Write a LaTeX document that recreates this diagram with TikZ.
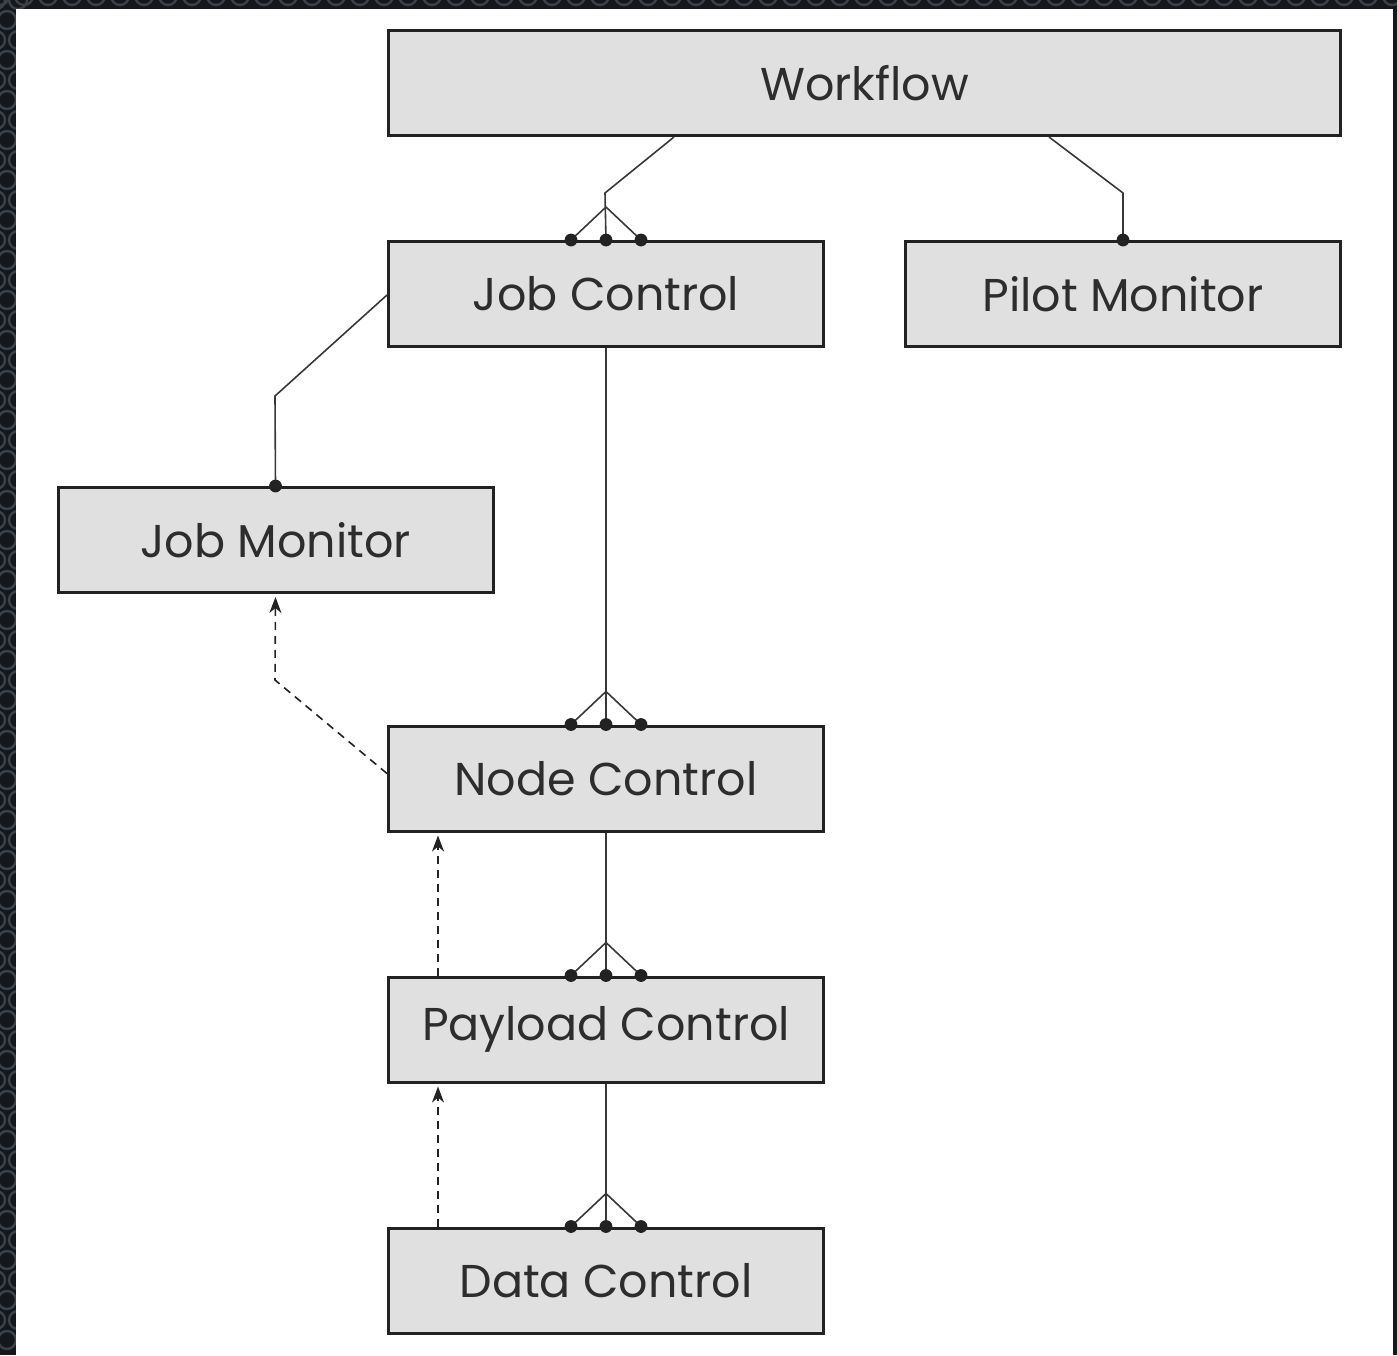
\documentclass[tikz,border=0pt]{standalone}
\usepackage{fontspec}
\setmainfont{Poppins}
\usetikzlibrary{calc,arrows.meta}
\definecolor{frame}{HTML}{15171B}
\definecolor{holerim}{HTML}{3A4149}
\definecolor{boxfill}{HTML}{E0E0E0}
\definecolor{ink}{HTML}{222222}
\tikzset{
  box/.style={draw=ink, fill=boxfill, line width=1.5pt, minimum width=217.5pt,
    minimum height=52.5pt, inner sep=0pt, font=\fontsize{23}{27}\selectfont, text=ink!95},
  conn/.style={draw=ink!90, line width=0.8pt},
  dep/.style={draw=ink, line width=0.8pt, dash pattern=on 4pt off 3pt,
    -{Stealth[length=8pt,width=6pt,inset=2.5pt]}},
  dot/.style={fill=ink, draw=none},
}
\newcommand\manyfoot[1]{%
  \draw[conn] ($(#1.north)+(0,-33)$) -- ($(#1.north)+(-35,0)$);
  \draw[conn] ($(#1.north)+(0,-33)$) -- ($(#1.north)+(35,0)$);
  \fill[dot] ($(#1.north)+(-35,0)$) circle[radius=3.2pt];
  \fill[dot] (#1.north) circle[radius=3.2pt];
  \fill[dot] ($(#1.north)+(35,0)$) circle[radius=3.2pt];
}
\begin{document}
\begin{tikzpicture}[x=0.5pt, y=-0.5pt]
  % perforated frame
  \useasboundingbox (0,0) rectangle (1397,1355);
  \fill[frame] (0,0) rectangle (1397,1355);
  \begin{scope}
    \clip (0,0) rectangle (1397,1355);
    \foreach \j in {0,...,67} {
      \pgfmathsetmacro\yy{\j*20}
      \pgfmathsetmacro\xo{mod(\j,2)*11}
      \draw[holerim, line width=1.2pt] (\xo-4,\yy) circle[radius=4.5pt];
      \draw[holerim, line width=1.2pt] (\xo+18,\yy) circle[radius=4.5pt];
    }
    \foreach \i in {0,...,60} {
      \draw[holerim, line width=1.2pt] (\i*24,-4) circle[radius=4.5pt];
    }
  \end{scope}
  \fill[white] (16,9) rectangle (1393,1355);

  % components
  \node[box, minimum width=476pt] (wf) at (864.5,83) {Workflow};
  \node[box] (jc) at (606,294) {Job Control};
  \node[box] (pm) at (1123,294) {Pilot Monitor};
  \node[box] (jm) at (275.5,540) {Job Monitor};
  \node[box] (nc) at (606,778.5) {Node Control};
  \node[box] (pc) at (606,1029.5) {Payload Control};
  \node[box] (dc) at (606,1280.5) {Data Control};

  % containment links
  \draw[conn] ($(wf.south west)+(287,0)$) -- (605,193) -- (jc.north);
  \manyfoot{jc}
  \draw[conn] ($(wf.south west)+(662,0)$) -- (1123,193) -- (pm.north);
  \fill[dot] (pm.north) circle[radius=3.2pt];
  \draw[conn] ($(jc.west)+(0,1)$) -- (275,396) -- (jm.north);
  \fill[dot] (jm.north) circle[radius=3.2pt];
  \draw[conn] (jc.south) -- (nc.north);
  \manyfoot{nc}
  \draw[conn] (nc.south) -- (pc.north);
  \manyfoot{pc}
  \draw[conn] (pc.south) -- (dc.north);
  \manyfoot{dc}

  % dependencies
  \draw[dep] ($(nc.west)+(0,-5)$) -- (275,680) -- ($(jm.south)+(0,3)$);
  \draw[dep] ($(pc.north west)+(51,0)$) -- ($(nc.south west)+(51,3)$);
  \draw[dep] ($(dc.north west)+(51,0)$) -- ($(pc.south west)+(51,3)$);
\end{tikzpicture}
\end{document}
